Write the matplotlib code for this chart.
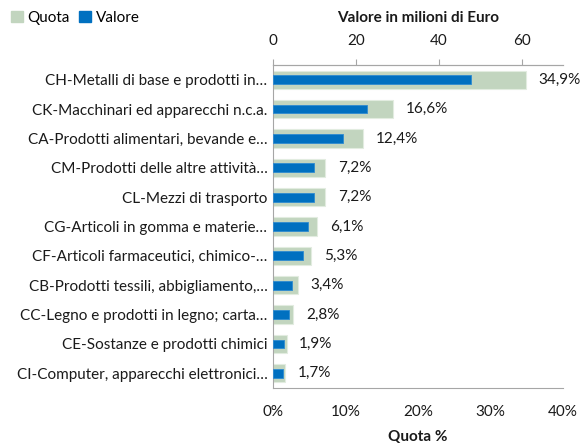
import matplotlib.pyplot as plt
from matplotlib.patches import Patch

# ---------------------------------------------------------------------------
# Data
# ---------------------------------------------------------------------------
CATEGORIES = [
    "CH-Metalli di base e prodotti in…",
    "CK-Macchinari ed apparecchi n.c.a.",
    "CA-Prodotti alimentari, bevande e…",
    "CM-Prodotti delle altre attività…",
    "CL-Mezzi di trasporto",
    "CG-Articoli in gomma e materie…",
    "CF-Articoli farmaceutici, chimico-…",
    "CB-Prodotti tessili, abbigliamento,…",
    "CC-Legno e prodotti in legno; carta…",
    "CE-Sostanze e prodotti chimici",
    "CI-Computer, apparecchi elettronici…",
]
QUOTA = [34.9, 16.6, 12.4, 7.2, 7.2, 6.1, 5.3, 3.4, 2.8, 1.9, 1.7]       # %
VALORE = [47.8, 22.7, 17.0, 9.9, 9.9, 8.4, 7.3, 4.7, 3.8, 2.6, 2.3]     # mln Euro
QUOTA_TICKS = [0, 10, 20, 30, 40]
VALORE_TICKS = [0, 20, 40, 60]

GREEN = "#C2D5BF"
BLUE = "#0070C0"
GREY = "#A6A6A6"
TEXT = "#1A1A1A"

plt.rcParams["font.family"] = ["Lato", "DejaVu Sans"]
plt.rcParams["font.size"] = 11

fig = plt.figure(figsize=(5.87, 4.45), dpi=100)
ax = fig.add_axes([273 / 587, 1 - 388 / 445, 290 / 587, 323 / 445])
ax2 = ax.twiny()

y = list(range(len(CATEGORIES)))
ax.barh(y, QUOTA, height=0.62, color=GREEN, edgecolor="#E2ECE0", linewidth=0.8, zorder=1)
ax2.barh(y, VALORE, height=0.3, color=BLUE, edgecolor="#2E8BD0", linewidth=0.6, zorder=2)

for yi, q in zip(y, QUOTA):
    ax.annotate(f"{q:.1f}%".replace(".", ","), xy=(q, yi), xytext=(9, 0),
                textcoords="offset points", va="center", ha="left",
                fontsize=11, color=TEXT)

ax.set_ylim(len(CATEGORIES) - 0.5, -0.5)
ax.set_xlim(0, 40)
ax2.set_xlim(0, 70)

ax.set_yticks(y)
ax.set_yticklabels(CATEGORIES, fontsize=11, color=TEXT)
ax.tick_params(axis="y", length=0, pad=4)

ax.set_xticks(QUOTA_TICKS)
ax.set_xticklabels([f"{t}%" for t in QUOTA_TICKS], color=TEXT)
ax.tick_params(axis="x", length=0, pad=12)
ax.set_xlabel("Quota %", fontweight="bold", color=TEXT, labelpad=8)

ax2.set_xticks(VALORE_TICKS)
ax2.set_xticklabels([str(t) for t in VALORE_TICKS], color=TEXT)
ax2.tick_params(axis="x", length=4, color=GREY, pad=8)
ax2.set_xlabel("Valore in milioni di Euro", fontweight="bold", color=TEXT, labelpad=9)

for a in (ax, ax2):
    a.spines["right"].set_visible(False)
    for s in ("left", "bottom", "top"):
        a.spines[s].set_color(GREY)
ax2.spines["left"].set_visible(False)
ax2.spines["bottom"].set_visible(False)

handles = [Patch(color=GREEN, label="Quota"), Patch(color=BLUE, label="Valore")]
fig.legend(handles=handles, loc="upper left", bbox_to_anchor=(0.0, 1.0), ncol=2,
           frameon=False, fontsize=11, handlelength=0.8, handleheight=0.8,
           handletextpad=0.3, columnspacing=0.6, borderaxespad=0.3)

fig.savefig("out.png", dpi=100)
